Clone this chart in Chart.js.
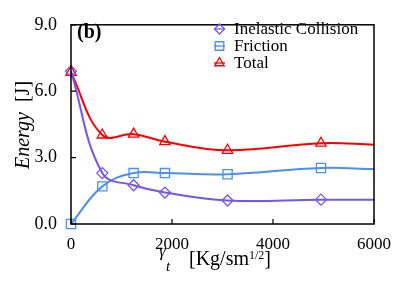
<!DOCTYPE html>
<html>
<head>
<meta charset="utf-8">
<script src="https://cdn.jsdelivr.net/npm/chart.js@4.4.0/dist/chart.umd.min.js"></script>
<style>
  html, body { margin: 0; padding: 0; background: #fff; }
</style>
</head>
<body>
<canvas id="myChart" width="407" height="288"></canvas>
<script>
// values; the last x is where the curves meet the right frame
var gammaT = [0, 620, 1240, 1860, 3100, 4950, 6000];
var inelastic = [6.9, 2.3, 1.75, 1.42, 1.06, 1.1, 1.09];
var friction = [0, 1.7, 2.3, 2.3, 2.25, 2.53, 2.48];
var total = [6.85, 4.02, 4.06, 3.72, 3.33, 3.65, 3.58];
var hasMarker = [1, 1, 1, 1, 1, 1, 0];
var xTicks = [0, 2000, 4000, 6000];
var yTicks = [0, 3, 6, 9];
var seriesNames = ['Inelastic Collision', 'Friction', 'Total'];

var serif = '"Liberation Serif", "Times New Roman", serif';
var colors = ['#7455f2', '#4a8ff2', '#ff0000'];
var styles = ['rectRot', 'rect', 'triangle'];
var radii = [5.5, 6.5, 6];

function pts(vals) {
  return vals.map(function (v, i) { return { x: gammaT[i], y: v }; });
}

function makeSet(i, vals) {
  return {
    label: seriesNames[i],
    data: pts(vals),
    borderColor: colors[i],
    backgroundColor: 'rgba(255,255,255,0)',
    borderWidth: 2,
    tension: 0.4,
    pointStyle: styles[i],
    pointRadius: hasMarker.map(function (m) { return m ? radii[i] : 0; }),
    pointBorderWidth: 1.3,
    pointBorderColor: colors[i],
    pointBackgroundColor: 'rgba(255,255,255,0)',
    clip: false
  };
}

// frame, inward ticks, legend, panel label and axis titles
var decor = {
  id: 'decor',
  afterDraw: function (chart) {
    var ctx = chart.ctx;
    var a = chart.chartArea;
    var xs = chart.scales.x, ys = chart.scales.y;
    ctx.save();
    ctx.strokeStyle = '#000';
    ctx.lineWidth = 1.5;
    ctx.strokeRect(a.left, a.top, a.right - a.left, a.bottom - a.top);
    ctx.lineWidth = 1.2;
    ctx.beginPath();
    xTicks.forEach(function (t) {
      var px = xs.getPixelForValue(t);
      ctx.moveTo(px, a.bottom); ctx.lineTo(px, a.bottom - 5);
    });
    yTicks.forEach(function (t) {
      var py = ys.getPixelForValue(t);
      ctx.moveTo(a.left, py); ctx.lineTo(a.left + 5, py);
    });
    ctx.stroke();

    // legend
    ctx.textBaseline = 'middle';
    ctx.textAlign = 'left';
    ctx.font = '17px ' + serif;
    for (var i = 0; i < 3; i++) {
      var ly = 29 + i * 17;
      ctx.strokeStyle = colors[i];
      ctx.fillStyle = 'rgba(255,255,255,0)';
      ctx.lineWidth = 1.3;
      ctx.beginPath();
      ctx.moveTo(214, ly); ctx.lineTo(225, ly);
      ctx.stroke();
      Chart.helpers.drawPoint(ctx, { pointStyle: styles[i], radius: radii[i] - 0.5, borderWidth: 1.3, rotation: 0 }, 219.5, ly);
      ctx.fillStyle = '#000';
      ctx.fillText(seriesNames[i], 234, ly + 1);
    }

    // panel label
    ctx.font = 'bold 20px ' + serif;
    ctx.textBaseline = 'alphabetic';
    ctx.fillText('(b)', 77, 38);

    // y title
    ctx.save();
    ctx.translate(29, 125);
    ctx.rotate(-Math.PI / 2);
    ctx.font = 'italic 20px ' + serif;
    var w1 = ctx.measureText('Energy').width;
    ctx.font = '20px ' + serif;
    var w2 = ctx.measureText('  [J]').width;
    var sx = -(w1 + w2) / 2;
    ctx.font = 'italic 20px ' + serif;
    ctx.fillText('Energy', sx, 0);
    ctx.font = '20px ' + serif;
    ctx.fillText('  [J]', sx + w1, 0);
    ctx.restore();

    // x title
    var by = 265;
    ctx.font = 'italic 17px ' + serif;
    ctx.fillText('\u03b3', 159, 256);
    ctx.font = 'italic 15px ' + serif;
    ctx.fillText('t', 166, 271);
    ctx.font = '20px ' + serif;
    ctx.fillText('[Kg/sm', 189, by);
    var wk = ctx.measureText('[Kg/sm').width;
    ctx.font = '12px ' + serif;
    ctx.fillText('1/2', 189 + wk, by - 6);
    var ws = ctx.measureText('1/2').width;
    ctx.font = '20px ' + serif;
    ctx.fillText(']', 189 + wk + ws, by);
    ctx.restore();
  }
};

var ctx = document.getElementById('myChart').getContext('2d');
var chart = new Chart(ctx, {
  type: 'line',
  data: {
    datasets: [makeSet(0, inelastic), makeSet(1, friction), makeSet(2, total)]
  },
  options: {
    responsive: false,
    animation: false,
    devicePixelRatio: 1,
    layout: { padding: { left: 0, right: 33, top: 15, bottom: 0 } },
    plugins: {
      legend: { display: false },
      tooltip: { enabled: false }
    },
    scales: {
      x: {
        type: 'linear',
        min: 0,
        max: 6000,
        afterFit: function (s) { s.height = 64; },
        afterBuildTicks: function (s) { s.ticks = xTicks.map(function (v) { return { value: v }; }); },
        grid: { display: false, drawTicks: false },
        border: { display: false },
        ticks: {
          color: '#000',
          padding: 10,
          maxRotation: 0,
          font: { family: serif, size: 17 },
          callback: function (v) { return String(v); }
        }
      },
      y: {
        min: 0,
        max: 9,
        afterFit: function (s) { s.width = 71; },
        afterBuildTicks: function (s) { s.ticks = yTicks.map(function (v) { return { value: v }; }); },
        grid: { display: false, drawTicks: false },
        border: { display: false },
        ticks: {
          color: '#000',
          padding: 14,
          font: { family: serif, size: 18 },
          callback: function (v) { return v.toFixed(1); }
        }
      }
    }
  },
  plugins: [decor]
});
</script>
</body>
</html>
